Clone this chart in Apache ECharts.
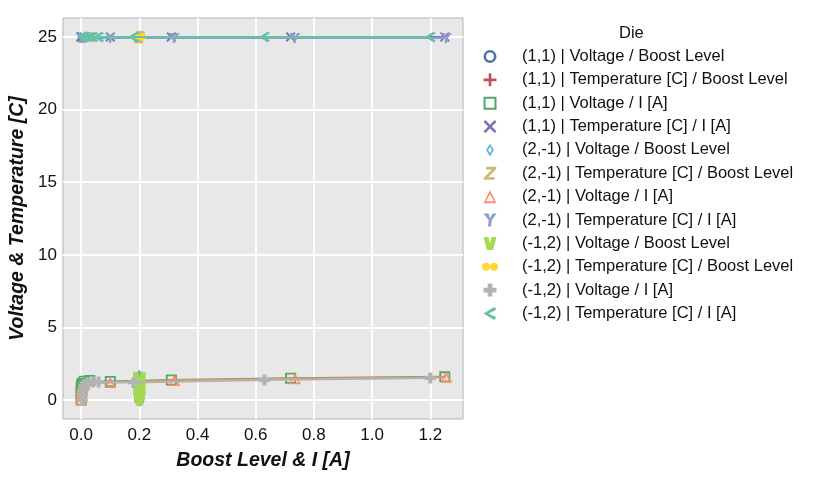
<!DOCTYPE html>
<html>
<head>
<meta charset="utf-8">
<script src="https://cdn.jsdelivr.net/npm/echarts@6/dist/echarts.min.js"></script>
<style>
  html, body { margin: 0; padding: 0; background: #fff; }
  #main { width: 818px; height: 480px; }
</style>
</head>
<body>
<div id="main"></div>
<script>
// data
var boostX = [0.2, 0.2, 0.2, 0.2, 0.2, 0.2, 0.2, 0.2, 0.2, 0.2, 0.2, 0.2];
var voltBoost_11 = [0.0, 0.1, 0.25, 0.4, 0.55, 0.7, 0.85, 1.0, 1.15, 1.3, 1.45, 1.55];
var voltBoost_21 = [0.0, 0.12, 0.28, 0.45, 0.6, 0.75, 0.9, 1.05, 1.2, 1.35, 1.5, 1.62];
var voltBoost_12 = [0.05, 0.15, 0.3, 0.45, 0.6, 0.75, 0.9, 1.05, 1.2, 1.3, 1.4, 1.5];
var tempBoost_11 = [25, 25, 25, 25, 25, 25, 25, 25, 25, 25, 25, 25];
var tempBoost_21 = [24.9, 24.95, 25, 25, 25.05, 25, 24.95, 25, 25, 25.05, 25, 25];
var tempBoost_12 = [25, 25, 25, 25, 25, 25, 25, 25, 25, 25, 25, 25];

var curr_11 = [0.0, 0.0, 0.0, 0.0, 0.001, 0.003, 0.01, 0.03, 0.1, 0.31, 0.72, 1.25];
var volt_11 = [0.0, 0.3, 0.55, 0.8, 1.0, 1.15, 1.3, 1.35, 1.28, 1.38, 1.5, 1.6];
var temp_11 = [25, 25, 25, 25, 25, 25, 25, 25, 25, 25, 25, 25];

var curr_21 = [0.0, 0.0, 0.0, 0.001, 0.003, 0.006, 0.012, 0.1, 0.32, 0.735, 1.255];
var volt_21 = [0.0, 0.25, 0.5, 0.75, 0.9, 1.0, 1.1, 1.22, 1.35, 1.47, 1.58];
var temp_21 = [24.92, 24.92, 24.92, 24.92, 24.92, 24.92, 24.92, 24.92, 24.92, 24.92, 24.92];

var curr_12 = [0.004, 0.005, 0.006, 0.01, 0.02, 0.04, 0.06, 0.18, 0.63, 1.2];
var volt_12 = [0.0, 0.35, 0.7, 1.0, 1.15, 1.25, 1.25, 1.22, 1.38, 1.52];
var temp_12 = [25, 25, 25, 25, 25, 25, 25, 25, 25, 25];

var xTicks = [0, 0.2, 0.4, 0.6, 0.8, 1.0, 1.2];
var yTicks = [0, 5, 10, 15, 20, 25];

var names = [
    '(1,1) | Voltage / Boost Level',
    '(1,1) | Temperature [C] / Boost Level',
    '(1,1) | Voltage / I [A]',
    '(1,1) | Temperature [C] / I [A]',
    '(2,-1) | Voltage / Boost Level',
    '(2,-1) | Temperature [C] / Boost Level',
    '(2,-1) | Voltage / I [A]',
    '(2,-1) | Temperature [C] / I [A]',
    '(-1,2) | Voltage / Boost Level',
    '(-1,2) | Temperature [C] / Boost Level',
    '(-1,2) | Voltage / I [A]',
    '(-1,2) | Temperature [C] / I [A]'
];
var colors = ['#4c72b0', '#c44e52', '#55a868', '#8172b2', '#64b5cd', '#ccb974',
    '#fc8d62', '#8da0cb', '#a6d854', '#ffd92f', '#b3b3b3', '#66c2a5'];

// marker shapes
var sym = {
    ring: 'path://M0 50 A50 50 0 1 1 100 50 A50 50 0 1 1 0 50 Z M20 50 A30 30 0 1 0 80 50 A30 30 0 1 0 20 50 Z',
    plus: 'path://M40 0 H60 V40 H100 V60 H60 V100 H40 V60 H0 V40 H40 Z',
    square: 'path://M0 0 L100 0 L100 100 L0 100 Z M16 16 L16 84 L84 84 L84 16 Z',
    cross: 'path://M0 14 L14 0 L50 36 L86 0 L100 14 L64 50 L100 86 L86 100 L50 64 L14 100 L0 86 L36 50 Z',
    diamond: 'path://M30 0 L60 50 L30 100 L0 50 Z M30 26 L16 50 L30 74 L44 50 Z',
    zed: 'path://M22 0 H100 L96 18 L36 80 H88 L84 100 H0 L4 82 L64 20 H18 Z',
    tri: 'path://M50 0 L100 100 L0 100 Z M50 32 L19 86 L81 86 Z',
    wye: 'path://M0 0 H38 L50 36 L70 0 H100 L64 52 L58 100 H34 L40 52 Z',
    vee: 'path://M0 0 H38 L50 50 L62 0 H100 L74 100 H26 Z',
    inf: 'path://M0 25 A25 25 0 1 1 50 25 A25 25 0 1 1 100 25 A25 25 0 1 1 50 25 A25 25 0 1 1 0 25 Z',
    blob: 'path://M32 0 H68 V32 H100 V68 H68 V100 H32 V68 H0 V32 H32 Z',
    lt: 'path://M82 0 L100 20 L40 50 L100 80 L82 100 L0 50 Z'
};
var symbols = [sym.ring, sym.plus, sym.square, sym.cross, sym.diamond, sym.zed,
    sym.tri, sym.wye, sym.vee, sym.inf, sym.blob, sym.lt];
var sizes = [[10, 10], [10, 10], [11, 11], [10, 10], [9, 14], [10, 10],
    [12, 11], [11, 10], [13, 13], [12, 7], [11, 11], [11, 11]];

function pairs(xs, ys) {
    return xs.map(function (x, i) { return [x, ys[i]]; });
}
var seriesData = [
    pairs(boostX, voltBoost_11), pairs(boostX, tempBoost_11), pairs(curr_11, volt_11), pairs(curr_11, temp_11),
    pairs(boostX, voltBoost_21), pairs(boostX, tempBoost_21), pairs(curr_21, volt_21), pairs(curr_21, temp_21),
    pairs(boostX, voltBoost_12), pairs(boostX, tempBoost_12), pairs(curr_12, volt_12), pairs(curr_12, temp_12)
];

var series = names.map(function (n, i) {
    return {
        name: n,
        type: 'line',
        data: seriesData[i],
        symbol: symbols[i],
        symbolSize: sizes[i],
        showAllSymbol: true,
        color: colors[i],
        itemStyle: {color: colors[i], borderWidth: 0},
        lineStyle: {color: colors[i], width: 2},
        animation: false,
        z: 2 + i
    };
});

var myChart = echarts.init(document.getElementById('main'));
myChart.setOption({
    animation: false,
    title: {
        text: 'Die',
        left: 614,
        top: 19.5,
        textStyle: {fontFamily: 'Liberation Sans', fontSize: 16.5, fontWeight: 'normal', color: '#111'}
    },
    legend: {
        orient: 'vertical',
        left: 482,
        top: 48,
        padding: 0,
        itemWidth: 16,
        itemHeight: 13,
        itemGap: 6.36,
        selectedMode: false,
        textStyle: {fontFamily: 'Liberation Sans', fontSize: 16.5, lineHeight: 17, color: '#111', padding: [0, 0, 0, 19]},
        data: names.map(function (n, i) { return {name: n, icon: symbols[i]}; })
    },
    grid: {
        left: 63, right: 355, top: 18, bottom: 61,
        show: true,
        backgroundColor: '#e8e8e8',
        borderColor: '#b3b3b3',
        borderWidth: 1
    },
    xAxis: {
        type: 'value',
        min: -0.0625,
        max: 1.3125,
        name: 'Boost Level & I [A]',
        nameLocation: 'middle',
        nameGap: 31.5,
        nameTextStyle: {fontFamily: 'Liberation Sans', fontSize: 19.5, fontWeight: 'bold', fontStyle: 'italic', color: '#111'},
        axisLine: {show: false},
        axisTick: {show: false, customValues: xTicks},
        axisLabel: {
            customValues: xTicks, margin: 7.5,
            fontFamily: 'Liberation Sans', fontSize: 17, color: '#111',
            formatter: function (v) { return v.toFixed(1); }
        },
        splitLine: {show: true, lineStyle: {color: '#ffffff', width: 1.8}}
    },
    yAxis: {
        type: 'value',
        min: -1.3,
        max: 26.3,
        name: 'Voltage & Temperature [C]',
        nameLocation: 'middle',
        nameGap: 35,
        nameTextStyle: {fontFamily: 'Liberation Sans', fontSize: 19.5, fontWeight: 'bold', fontStyle: 'italic', color: '#111'},
        axisLine: {show: false},
        axisTick: {show: false, customValues: yTicks},
        axisLabel: {customValues: yTicks, margin: 6, fontFamily: 'Liberation Sans', fontSize: 17, color: '#111'},
        splitLine: {show: true, lineStyle: {color: '#ffffff', width: 1.8}}
    },
    series: series
});
</script>
</body>
</html>
